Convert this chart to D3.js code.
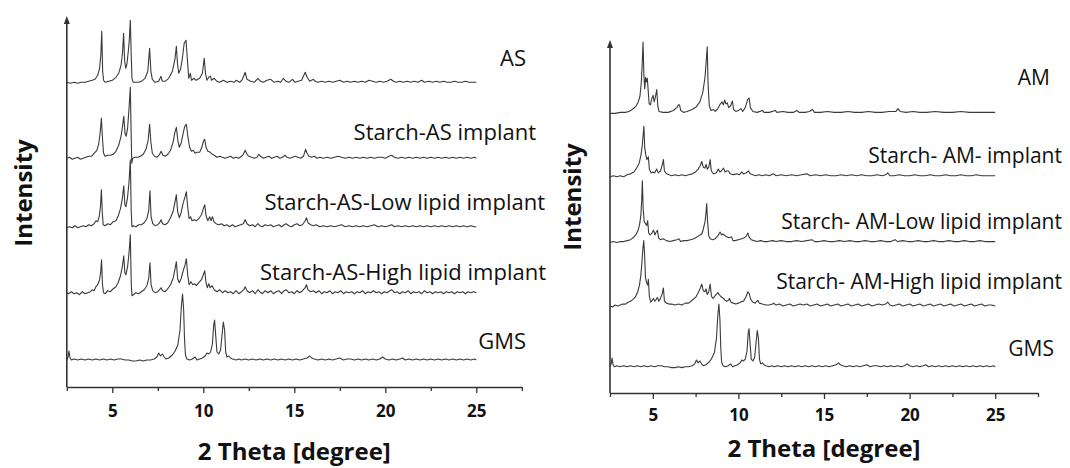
<!DOCTYPE html>
<html>
<head>
<meta charset="utf-8">
<script src="https://cdn.jsdelivr.net/npm/d3@7"></script>
<style>
  body { margin: 0; background: #fff; }
  svg { display: block; }
  .lbl { font-family: "Open Sans", sans-serif; fill: #111; }
  .tick text { font-family: "Open Sans", sans-serif; font-weight: bold; font-size: 17px; fill: #111; }
</style>
</head>
<body>
<svg id="chart" width="1070" height="468"></svg>
<script>
// 2-theta tick values
var majorTicks = [5, 10, 15, 20, 25];
var minorTicks = [2.5, 7.5, 12.5, 17.5, 22.5, 27.5];

// left panel: AS series names and stack offsets
var leftNames = ["AS", "Starch-AS implant", "Starch-AS-Low lipid implant", "Starch-AS-High lipid implant", "GMS"];
var leftOffsets = [303.7, 228.7, 160.3, 94.3, 27];

// right panel: AM series names and stack offsets
var rightNames = ["AM", "Starch- AM- implant", "Starch- AM-Low lipid implant", "Starch- AM-High lipid implant", "GMS"];
var rightOffsets = [294.4, 227.7, 158.4, 91.6, 27.7];

// patterns [2theta, intensity a.u.]
var asPattern = [[2.5,1],[2.7,0],[2.9,1],[3.1,0],[3.3,1],[3.5,1],[3.7,2],[3.9,3],[4.05,4],[4.2,8],[4.3,15],[4.37,28],[4.42,52],[4.47,12],[4.52,3],[4.6,1],[4.8,2],[5.0,3],[5.2,6],[5.35,10],[5.48,18],[5.56,30],[5.62,50],[5.68,22],[5.74,15],[5.8,19],[5.88,32],[5.94,45],[5.99,63],[6.04,28],[6.08,5],[6.15,1],[6.3,1],[6.45,1],[6.6,2],[6.8,5],[6.95,12],[7.05,35],[7.12,12],[7.2,4],[7.35,1],[7.55,2],[7.68,7],[7.75,2],[7.9,2],[8.1,5],[8.3,12],[8.45,25],[8.52,37],[8.58,20],[8.65,10],[8.75,14],[8.85,25],[8.95,40],[9.05,43],[9.12,25],[9.2,5],[9.29,10],[9.35,3],[9.5,5],[9.6,3],[9.8,5],[9.95,10],[10.05,25],[10.12,10],[10.2,3],[10.3,6],[10.4,7],[10.45,3],[10.6,5],[10.75,2],[10.9,1],[11.1,3],[11.3,1],[11.5,2],[11.7,1],[11.8,3],[12.0,1],[12.15,4],[12.3,11],[12.4,4],[12.6,2],[12.8,1],[13.0,5],[13.15,2],[13.3,1],[13.5,3],[13.7,4],[13.9,1],[14.1,2],[14.25,1],[14.4,5],[14.55,2],[14.7,1],[14.9,4],[15.05,1],[15.2,2],[15.4,3],[15.6,11],[15.7,6],[15.85,2],[16.05,4],[16.15,2],[16.3,1],[16.5,2],[16.7,1],[16.9,2],[17.1,1],[17.3,2],[17.5,3],[17.7,1],[17.9,2],[18.1,1],[18.3,2],[18.5,1],[18.7,2],[18.9,1],[19.1,3],[19.3,2],[19.5,1],[19.7,2],[19.9,1],[20.1,2],[20.3,4],[20.45,2],[20.6,1],[20.8,2],[21.0,1],[21.2,2],[21.4,1],[21.6,2],[21.8,1],[22.0,3],[22.15,1],[22.4,2],[22.6,1],[22.8,2],[23.0,1],[23.2,2],[23.4,1],[23.6,1],[23.8,2],[24.0,1],[24.2,1],[24.4,2],[24.6,1],[24.8,1],[25.0,1]];

var starchAsPattern = [[2.5,0],[2.65,1],[2.8,-1],[2.95,0],[3.1,1],[3.25,-1],[3.4,0],[3.55,1],[3.7,2],[3.85,2],[4.0,5],[4.15,8],[4.25,14],[4.33,25],[4.4,40],[4.46,20],[4.52,5],[4.6,2],[4.75,3],[4.9,3],[5.05,4],[5.2,7],[5.35,13],[5.48,22],[5.56,32],[5.63,42],[5.7,25],[5.76,22],[5.84,30],[5.92,50],[5.99,71],[6.04,20],[6.07,-5],[6.12,0],[6.25,1],[6.4,1],[6.55,2],[6.7,4],[6.85,9],[6.97,18],[7.05,34],[7.12,16],[7.2,5],[7.32,2],[7.45,1],[7.6,4],[7.68,7],[7.78,3],[7.9,2],[8.05,4],[8.2,8],[8.35,17],[8.45,27],[8.52,31],[8.6,18],[8.68,11],[8.78,15],[8.88,24],[8.98,32],[9.07,34],[9.15,22],[9.25,11],[9.35,7],[9.45,8],[9.55,5],[9.65,6],[9.8,6],[9.92,11],[10.02,18],[10.08,19],[10.15,11],[10.25,7],[10.38,6],[10.5,4],[10.6,3],[10.75,1],[10.9,2],[11.05,1],[11.2,0],[11.35,1],[11.5,2],[11.65,0],[11.8,1],[11.95,0],[12.1,2],[12.2,4],[12.3,8],[12.4,4],[12.5,2],[12.65,1],[12.8,0],[12.95,1],[13.05,4],[13.15,2],[13.3,0],[13.45,1],[13.6,2],[13.75,0],[13.9,1],[14.05,2],[14.2,0],[14.35,1],[14.5,3],[14.6,1],[14.75,0],[14.9,1],[15.05,2],[15.2,1],[15.35,0],[15.5,2],[15.62,9],[15.7,5],[15.8,2],[15.95,1],[16.1,2],[16.25,0],[16.4,1],[16.6,0],[16.8,1],[17.0,0],[17.2,1],[17.4,2],[17.6,1],[17.8,0],[18.0,1],[18.2,0],[18.4,1],[18.6,0],[18.8,1],[19.0,0],[19.2,1],[19.4,0],[19.6,1],[19.8,1],[20.0,0],[20.2,2],[20.35,3],[20.5,1],[20.7,0],[20.9,1],[21.1,0],[21.3,1],[21.5,0],[21.7,1],[21.9,0],[22.1,1],[22.3,0],[22.5,1],[22.7,0],[22.9,1],[23.1,0],[23.3,1],[23.5,0],[23.7,1],[23.9,0],[24.1,1],[24.3,0],[24.5,1],[24.7,0],[24.9,1],[25.0,0]];

var asLowPattern = [[2.5,-1],[2.65,0],[2.8,-1],[2.95,1],[3.1,-1],[3.25,0],[3.4,1],[3.55,0],[3.7,2],[3.85,1],[4.0,3],[4.1,6],[4.2,5],[4.28,10],[4.35,20],[4.4,37],[4.45,14],[4.5,2],[4.6,1],[4.75,3],[4.9,2],[5.05,5],[5.2,6],[5.33,11],[5.45,18],[5.55,28],[5.63,41],[5.69,22],[5.75,20],[5.83,28],[5.92,45],[5.99,67],[6.04,15],[6.08,0],[6.15,1],[6.3,0],[6.45,2],[6.6,2],[6.75,4],[6.9,8],[7.0,16],[7.07,36],[7.13,10],[7.22,3],[7.35,1],[7.5,2],[7.6,4],[7.68,7],[7.76,3],[7.9,2],[8.05,4],[8.2,9],[8.35,16],[8.45,25],[8.52,32],[8.59,15],[8.68,9],[8.78,14],[8.9,24],[9.0,30],[9.07,35],[9.14,20],[9.22,8],[9.3,10],[9.38,6],[9.5,7],[9.62,6],[9.75,8],[9.9,12],[10.02,19],[10.08,22],[10.15,11],[10.25,6],[10.35,10],[10.42,6],[10.5,10],[10.58,5],[10.7,3],[10.85,2],[11.0,3],[11.15,1],[11.3,2],[11.45,0],[11.6,2],[11.75,0],[11.9,1],[12.05,2],[12.2,3],[12.3,7],[12.4,3],[12.55,1],[12.7,2],[12.85,0],[13.0,3],[13.1,1],[13.25,0],[13.4,2],[13.55,1],[13.7,2],[13.85,0],[14.0,1],[14.15,2],[14.3,0],[14.45,2],[14.55,3],[14.7,1],[14.85,0],[15.0,2],[15.15,3],[15.3,1],[15.45,2],[15.6,6],[15.67,9],[15.75,4],[15.9,2],[16.05,1],[16.2,2],[16.4,0],[16.6,1],[16.8,0],[17.0,1],[17.2,0],[17.4,1],[17.6,2],[17.8,0],[18.0,1],[18.2,0],[18.4,1],[18.6,0],[18.8,1],[19.0,0],[19.2,1],[19.4,2],[19.6,0],[19.8,1],[20.0,0],[20.2,1],[20.35,2],[20.5,0],[20.7,1],[20.9,0],[21.1,1],[21.3,0],[21.5,1],[21.7,0],[21.9,1],[22.1,0],[22.3,1],[22.5,0],[22.7,1],[22.9,0],[23.1,1],[23.3,0],[23.5,1],[23.7,0],[23.9,1],[24.1,0],[24.3,1],[24.5,0],[24.7,1],[24.9,0],[25.0,0]];

var asHighPattern = [[2.5,0],[2.6,-1],[2.75,1],[2.9,-1],[3.05,0],[3.2,-2],[3.35,1],[3.5,-1],[3.65,0],[3.8,1],[3.9,3],[4.0,2],[4.1,6],[4.2,8],[4.3,13],[4.36,20],[4.41,33],[4.46,8],[4.52,0],[4.62,-1],[4.75,2],[4.9,1],[5.05,4],[5.2,6],[5.32,10],[5.45,17],[5.55,26],[5.63,37],[5.69,20],[5.75,18],[5.84,26],[5.92,40],[5.99,58],[6.04,10],[6.08,-3],[6.15,-2],[6.3,0],[6.45,-1],[6.6,1],[6.75,3],[6.9,7],[7.0,14],[7.07,30],[7.13,8],[7.22,2],[7.35,0],[7.5,1],[7.6,3],[7.68,5],[7.76,2],[7.9,1],[8.05,4],[8.2,8],[8.35,15],[8.45,24],[8.52,31],[8.59,14],[8.68,10],[8.78,14],[8.9,22],[9.0,28],[9.07,34],[9.14,18],[9.22,8],[9.32,11],[9.42,8],[9.52,9],[9.62,7],[9.75,10],[9.9,13],[10.02,19],[10.08,22],[10.15,10],[10.22,5],[10.3,9],[10.38,5],[10.48,7],[10.6,3],[10.75,1],[10.9,3],[11.05,0],[11.2,2],[11.35,0],[11.5,1],[11.65,-1],[11.8,2],[11.95,-1],[12.1,1],[12.22,3],[12.3,6],[12.4,2],[12.55,0],[12.7,2],[12.85,-1],[13.0,3],[13.1,1],[13.25,-1],[13.4,2],[13.55,0],[13.7,2],[13.85,-1],[14.0,1],[14.15,2],[14.3,-1],[14.45,2],[14.55,3],[14.7,0],[14.85,1],[15.0,-1],[15.15,2],[15.3,0],[15.45,2],[15.6,5],[15.67,8],[15.75,3],[15.9,1],[16.05,2],[16.2,0],[16.35,2],[16.5,-1],[16.65,1],[16.8,0],[16.95,2],[17.1,-1],[17.25,1],[17.4,0],[17.55,2],[17.7,-1],[17.85,1],[18.0,0],[18.15,1],[18.3,-1],[18.45,1],[18.6,0],[18.75,2],[18.9,-1],[19.05,1],[19.2,0],[19.35,2],[19.5,0],[19.65,1],[19.8,-1],[19.95,1],[20.1,0],[20.25,2],[20.35,3],[20.5,0],[20.65,1],[20.8,-1],[20.95,1],[21.1,0],[21.25,2],[21.4,-1],[21.55,1],[21.7,0],[21.85,1],[22.0,-1],[22.15,2],[22.3,0],[22.45,1],[22.6,-1],[22.75,1],[22.9,0],[23.05,1],[23.2,-1],[23.35,1],[23.5,0],[23.65,1],[23.8,-1],[23.95,1],[24.1,0],[24.25,1],[24.4,-1],[24.55,1],[24.7,0],[24.85,1],[25.0,0]];

var gmsPattern = [[2.5,0],[2.57,3],[2.62,9],[2.68,2],[2.75,0],[2.9,1],[3.1,0],[3.3,1],[3.5,0],[3.7,1],[3.9,0],[4.1,1],[4.3,0],[4.5,1],[4.7,0],[4.9,1],[5.1,0],[5.3,1],[5.5,1],[5.7,0],[5.9,0],[6.1,-1],[6.3,-1],[6.5,0],[6.7,-1],[6.9,0],[7.1,0],[7.3,1],[7.45,3],[7.55,7],[7.65,4],[7.75,6],[7.85,3],[7.95,1],[8.1,2],[8.3,5],[8.45,9],[8.6,15],[8.72,30],[8.8,55],[8.86,66],[8.92,50],[8.97,20],[9.02,5],[9.1,1],[9.25,0],[9.4,1],[9.55,3],[9.65,0],[9.8,1],[9.95,2],[10.1,4],[10.2,7],[10.3,6],[10.4,8],[10.5,16],[10.57,35],[10.62,40],[10.68,25],[10.75,8],[10.85,6],[10.95,10],[11.03,25],[11.1,38],[11.17,30],[11.23,8],[11.3,3],[11.4,4],[11.5,2],[11.6,1],[11.8,0],[11.95,1],[12.1,0],[12.3,1],[12.5,0],[12.7,1],[12.9,0],[13.1,1],[13.3,0],[13.5,1],[13.7,0],[13.9,1],[14.1,0],[14.3,1],[14.5,0],[14.7,1],[14.9,0],[15.1,1],[15.3,0],[15.5,1],[15.7,2],[15.85,4],[15.95,2],[16.1,1],[16.3,0],[16.5,1],[16.7,0],[16.9,1],[17.1,0],[17.3,1],[17.5,2],[17.7,0],[17.9,1],[18.1,1],[18.3,0],[18.5,1],[18.7,0],[18.9,1],[19.1,0],[19.3,1],[19.5,0],[19.7,1],[19.85,3],[20.0,1],[20.2,0],[20.4,1],[20.6,0],[20.8,1],[20.95,2],[21.1,0],[21.3,1],[21.5,0],[21.7,1],[21.9,0],[22.1,1],[22.3,0],[22.5,1],[22.7,0],[22.9,1],[23.1,0],[23.3,1],[23.5,0],[23.7,1],[23.9,0],[24.1,1],[24.3,0],[24.5,1],[24.7,0],[24.9,1],[25.0,0]];

var amPattern = [[2.5,0],[2.8,0],[3.1,1],[3.4,1],[3.6,2],[3.8,4],[4.0,7],[4.15,12],[4.25,18],[4.33,33],[4.38,52],[4.43,75],[4.48,40],[4.53,26],[4.58,38],[4.63,33],[4.68,37],[4.73,24],[4.79,10],[4.86,9],[4.95,16],[5.02,19],[5.08,12],[5.15,17],[5.23,25],[5.29,8],[5.36,2],[5.6,1],[5.9,1],[6.2,3],[6.4,6],[6.5,9],[6.56,9],[6.63,3],[6.8,1],[7.0,2],[7.3,4],[7.55,7],[7.75,12],[7.92,22],[8.05,38],[8.12,55],[8.18,70],[8.23,30],[8.3,8],[8.4,3],[8.55,4],[8.65,2],[8.8,5],[8.95,10],[9.05,12],[9.12,9],[9.2,14],[9.27,10],[9.35,11],[9.43,6],[9.55,8],[9.65,13],[9.72,4],[9.85,2],[10.0,3],[10.15,5],[10.25,2],[10.4,6],[10.55,15],[10.63,16],[10.7,6],[10.85,2],[11.1,1],[11.4,3],[11.5,1],[11.8,1],[12.15,3],[12.25,1],[12.6,2],[12.9,1],[13.2,1],[13.42,3],[13.55,1],[13.9,1],[14.15,2],[14.33,4],[14.45,1],[14.8,1],[15.2,2],[15.6,1],[16.0,1],[16.4,2],[16.8,1],[17.2,1],[17.6,2],[18.0,1],[18.4,1],[18.8,2],[19.2,2],[19.32,5],[19.45,2],[19.8,1],[20.2,2],[20.6,1],[21.0,1],[21.5,2],[22.0,1],[22.5,1],[23.0,2],[23.5,1],[24.0,1],[24.5,1],[25.0,1]];

var starchAmPattern = [[2.5,0],[2.7,1],[2.9,0],[3.1,1],[3.3,0],[3.5,2],[3.7,3],[3.9,5],[4.05,9],[4.2,14],[4.3,22],[4.38,32],[4.44,45],[4.48,53],[4.53,30],[4.6,22],[4.66,18],[4.74,21],[4.8,8],[4.9,4],[5.0,5],[5.1,4],[5.23,8],[5.32,4],[5.45,6],[5.56,13],[5.62,18],[5.68,6],[5.8,3],[5.95,2],[6.1,1],[6.3,2],[6.5,1],[6.7,2],[6.9,1],[7.1,2],[7.3,3],[7.5,5],[7.65,8],[7.78,12],[7.86,16],[7.95,10],[8.04,9],[8.11,13],[8.18,8],[8.27,10],[8.35,18],[8.42,6],[8.55,3],[8.7,4],[8.83,8],[8.92,5],[9.0,6],[9.13,9],[9.22,5],[9.3,6],[9.42,6],[9.52,3],[9.7,2],[9.9,3],[10.05,2],[10.2,5],[10.3,3],[10.45,4],[10.59,6],[10.68,3],[10.85,2],[11.0,1],[11.2,2],[11.4,1],[11.6,2],[11.8,1],[12.05,3],[12.2,1],[12.5,2],[12.8,1],[13.1,2],[13.4,1],[13.7,2],[14.0,3],[14.2,1],[14.5,2],[14.8,1],[15.1,2],[15.4,1],[15.7,1],[16.0,2],[16.3,1],[16.6,2],[16.9,1],[17.2,2],[17.5,1],[17.8,1],[18.1,2],[18.4,1],[18.6,2],[18.72,4],[18.85,1],[19.1,1],[19.4,2],[19.7,1],[20.0,1],[20.3,2],[20.6,1],[20.9,1],[21.2,2],[21.5,1],[21.8,1],[22.1,2],[22.4,1],[22.7,1],[23.0,2],[23.3,1],[23.6,1],[23.9,2],[24.2,1],[24.5,1],[24.8,1],[25.0,1]];

var amLowPattern = [[2.5,0],[2.7,1],[2.9,0],[3.1,1],[3.3,1],[3.5,2],[3.7,3],[3.85,5],[4.0,8],[4.12,12],[4.22,18],[4.3,28],[4.35,44],[4.39,65],[4.44,35],[4.5,22],[4.57,20],[4.64,18],[4.7,23],[4.76,10],[4.84,8],[4.95,10],[5.04,13],[5.12,8],[5.2,11],[5.27,13],[5.34,5],[5.45,3],[5.6,4],[5.8,2],[6.0,1],[6.2,2],[6.4,3],[6.53,4],[6.62,1],[6.8,2],[7.0,2],[7.2,3],[7.4,4],[7.6,6],[7.75,8],[7.86,9],[7.95,14],[8.05,22],[8.1,30],[8.15,41],[8.2,22],[8.27,7],[8.35,4],[8.5,3],[8.65,4],[8.8,7],[8.93,11],[9.02,8],[9.1,9],[9.18,8],[9.3,6],[9.45,5],[9.6,6],[9.68,2],[9.8,2],[10.0,3],[10.2,4],[10.35,5],[10.47,7],[10.55,10],[10.62,6],[10.75,3],[10.9,2],[11.1,1],[11.3,2],[11.5,1],[11.7,1],[12.0,2],[12.2,1],[12.5,2],[12.8,1],[13.1,1],[13.4,2],[13.7,1],[14.0,2],[14.3,3],[14.45,1],[14.7,1],[15.0,2],[15.3,1],[15.6,1],[15.9,2],[16.2,1],[16.5,2],[16.8,1],[17.1,1],[17.4,2],[17.7,1],[18.0,1],[18.3,2],[18.6,1],[18.9,1],[19.15,3],[19.3,1],[19.6,2],[19.9,1],[20.2,1],[20.5,2],[20.8,1],[21.1,1],[21.4,2],[21.7,1],[22.0,1],[22.3,2],[22.6,1],[22.9,1],[23.2,2],[23.5,1],[23.8,1],[24.1,2],[24.4,1],[24.7,1],[25.0,1]];

var amHighPattern = [[2.5,0],[2.65,-1],[2.8,1],[2.95,0],[3.1,1],[3.25,2],[3.4,2],[3.55,4],[3.7,5],[3.85,7],[4.0,10],[4.12,15],[4.22,22],[4.3,32],[4.36,45],[4.42,60],[4.47,69],[4.52,55],[4.57,30],[4.63,25],[4.7,22],[4.74,28],[4.8,10],[4.88,4],[4.97,6],[5.04,8],[5.12,5],[5.2,7],[5.27,9],[5.35,5],[5.45,8],[5.55,13],[5.62,19],[5.68,5],[5.8,3],[5.95,2],[6.1,2],[6.3,1],[6.5,2],[6.7,1],[6.9,3],[7.1,3],[7.3,6],[7.5,9],[7.65,14],[7.78,19],[7.86,23],[7.95,16],[8.04,15],[8.11,18],[8.18,12],[8.27,15],[8.35,23],[8.43,10],[8.52,8],[8.65,11],[8.8,14],[8.88,12],[8.97,10],[9.05,9],[9.13,8],[9.22,6],[9.32,5],[9.42,6],[9.48,8],[9.56,4],[9.7,3],[9.85,2],[10.0,3],[10.12,4],[10.2,5],[10.3,5],[10.45,10],[10.55,15],[10.63,13],[10.72,7],[10.85,4],[10.98,3],[11.08,5],[11.14,6],[11.22,3],[11.4,2],[11.6,1],[11.8,1],[12.0,2],[12.05,3],[12.2,1],[12.4,2],[12.6,0],[12.8,1],[13.0,2],[13.2,0],[13.4,1],[13.6,2],[13.8,1],[14.0,2],[14.2,0],[14.4,1],[14.6,2],[14.8,0],[15.0,1],[15.2,2],[15.4,0],[15.6,1],[15.8,2],[16.0,0],[16.2,1],[16.4,2],[16.6,0],[16.8,1],[17.0,2],[17.2,0],[17.4,1],[17.6,2],[17.8,0],[18.0,1],[18.2,2],[18.4,1],[18.6,2],[18.72,4],[18.85,1],[19.0,0],[19.2,1],[19.4,2],[19.6,0],[19.8,1],[20.0,2],[20.2,0],[20.4,1],[20.6,2],[20.8,0],[21.0,1],[21.2,2],[21.4,0],[21.6,1],[21.8,2],[22.0,0],[22.2,1],[22.4,2],[22.6,0],[22.8,1],[23.0,2],[23.2,0],[23.4,1],[23.6,2],[23.8,0],[24.0,1],[24.2,2],[24.4,0],[24.6,1],[24.8,1],[25.0,0]];

var leftPatterns = [asPattern, starchAsPattern, asLowPattern, asHighPattern, gmsPattern];
var rightPatterns = [amPattern, starchAmPattern, amLowPattern, amHighPattern, gmsPattern];

var svg = d3.select("#chart");

var panels = [
    { names: leftNames, offsets: leftOffsets, patterns: leftPatterns,
      x0: 66.8, x1: 521.8, yAxis: 387, yTop: 16, yMax: 371,
      labelRight: [526, 536, 545, 546, 526], labelY: [58, 132, 202, 272, 341], labelSize: 22,
      tickY: 410, titleBase: 460, ylabX: 23, ylabY: 193 },
    { names: rightNames, offsets: rightOffsets, patterns: rightPatterns,
      x0: 610, x1: 1038, yAxis: 393, yTop: 40, yMax: 371.6,
      labelRight: [1050, 1062, 1062, 1062, 1054], labelY: [77, 155, 221, 281, 348], labelSize: 21,
      tickY: 414, titleBase: 457, ylabX: 572, ylabY: 197 }
];

panels.forEach(function (p) {
    var x = d3.scaleLinear().domain([2.5, 27.5]).range([p.x0, p.x1]);
    var y = d3.scaleLinear().domain([0, p.yMax]).range([p.yAxis, p.yTop]);
    var g = svg.append("g");

    // curves
    p.patterns.forEach(function (pts, i) {
        var off = p.offsets[i];
        var line = d3.line()
            .x(function (d) { return x(d[0]); })
            .y(function (d) { return y(d[1] + off); });
        g.append("path")
            .attr("d", line(pts))
            .attr("fill", "none")
            .attr("stroke", "#3a3a3a")
            .attr("stroke-width", 1.1)
            .attr("stroke-linejoin", "round");
        g.append("text")
            .attr("class", "lbl")
            .attr("x", p.labelRight[i])
            .attr("y", p.labelY[i])
            .attr("dy", "0.36em")
            .attr("text-anchor", "end")
            .attr("font-size", p.labelSize)
            .text(p.names[i]);
    });

    // x axis: minor ticks then major ticks with labels
    g.append("g")
        .attr("transform", "translate(0," + p.yAxis + ")")
        .call(d3.axisBottom(x).tickValues(minorTicks).tickSize(4).tickFormat(""))
        .call(function (a) { a.select(".domain").remove(); a.selectAll("line").attr("stroke", "#333").attr("stroke-width", 1.3); });
    var ax = g.append("g")
        .attr("transform", "translate(0," + p.yAxis + ")")
        .call(d3.axisBottom(x).tickValues(majorTicks).tickSize(6).tickSizeOuter(0).tickPadding(6));
    ax.select(".domain").attr("stroke", "#333").attr("stroke-width", 1.6);
    ax.selectAll(".tick line").attr("stroke", "#333").attr("stroke-width", 1.3);
    ax.selectAll(".tick text").attr("y", null).attr("dy", null)
        .attr("transform", "translate(0," + (p.tickY - p.yAxis) + ")")
        .attr("dominant-baseline", "central");

    // y axis with arrow
    g.append("line")
        .attr("x1", p.x0).attr("x2", p.x0)
        .attr("y1", p.yAxis).attr("y2", p.yTop + 4)
        .attr("stroke", "#333").attr("stroke-width", 1.6);
    g.append("path")
        .attr("d", "M" + p.x0 + "," + p.yTop + "l-3,8h6z")
        .attr("fill", "#333");

    // titles
    g.append("text")
        .attr("class", "lbl")
        .attr("x", (p.x0 + p.x1) / 2)
        .attr("y", p.titleBase)
        .attr("text-anchor", "middle")
        .attr("font-size", 24)
        .attr("font-weight", "bold")
        .text("2 Theta [degree]");
    g.append("text")
        .attr("class", "lbl")
        .attr("transform", "translate(" + p.ylabX + "," + p.ylabY + ") rotate(-90)")
        .attr("dy", "0.36em")
        .attr("text-anchor", "middle")
        .attr("font-size", 24)
        .attr("font-weight", "bold")
        .text("Intensity");
});
</script>
</body>
</html>
